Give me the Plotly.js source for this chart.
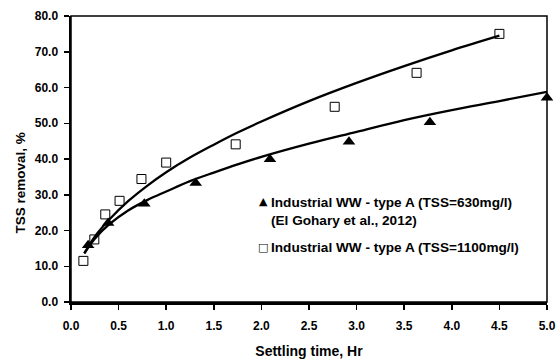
<!DOCTYPE html>
<html>
<head>
<meta charset="utf-8">
<script src="https://cdn.plot.ly/plotly-3.0.1.min.js"></script>
<style>html,body{margin:0;padding:0;background:#fff;}#chart{width:558px;height:359px;}</style>
</head>
<body>
<div id="chart"></div>
<script>
// Measured points: TSS = 630 mg/l (El Gohary et al., 2012)
const t630 = [0.18, 0.39, 0.77, 1.31, 2.09, 2.92, 3.77, 5.0];
const r630 = [15.9, 22.1, 27.5, 33.3, 39.9, 44.8, 50.3, 57.1];
// Measured points: TSS = 1100 mg/l
const t1100 = [0.13, 0.245, 0.36, 0.51, 0.74, 1.0, 1.73, 2.77, 3.63, 4.5];
const r1100 = [11.5, 17.5, 24.5, 28.3, 34.4, 39.0, 44.1, 54.6, 64.1, 75.0];
// Trend curves
const fitT630 = [0.14, 0.25, 0.4, 0.6, 0.8, 1.0, 1.25, 1.5, 1.75, 2.0, 2.5, 3.0, 3.5, 4.0, 4.5, 5.0];
const fitR630 = [13.6, 17.7, 21.7, 25.6, 28.5, 30.9, 33.8, 36.2, 38.5, 40.6, 44.3, 47.6, 50.9, 53.7, 56.2, 58.8];
const fitT1100 = [0.14, 0.25, 0.4, 0.6, 0.8, 1.0, 1.25, 1.5, 1.75, 2.0, 2.5, 3.0, 3.5, 4.0, 4.5];
const fitR1100 = [13.6, 18.3, 23.0, 28.2, 32.5, 36.3, 40.4, 44.0, 47.4, 50.5, 56.2, 61.3, 66.0, 70.4, 74.5];

const xTicks = [0, 0.5, 1, 1.5, 2, 2.5, 3, 3.5, 4, 4.5, 5];
const yTicks = [0, 10, 20, 30, 40, 50, 60, 70, 80];

const legend1a = "Industrial WW - type A (TSS=630mg/l)";
const legend1b = "(El Gohary et al., 2012)";
const legend2 = "Industrial WW - type A (TSS=1100mg/l)";
const xTitle = "Settling time, Hr";
const yTitle = "TSS removal, %";

const FONT = "Arial, 'Liberation Sans', sans-serif";

const traces = [
  {x: fitT1100, y: fitR1100, mode: 'lines', line: {color: '#000', width: 2.3, shape: 'spline'}, showlegend: false, hoverinfo: 'skip'},
  {x: fitT630, y: fitR630, mode: 'lines', line: {color: '#000', width: 2.3, shape: 'spline'}, showlegend: false, hoverinfo: 'skip'},
  {x: t630, y: r630, mode: 'markers', name: legend1a, cliponaxis: false,
   marker: {symbol: 'triangle-up', size: 11, color: '#000', line: {width: 0}}, showlegend: false},
  {x: t1100, y: r1100, mode: 'markers', name: legend2, cliponaxis: false,
   marker: {symbol: 'square-open', size: 9, color: '#000', line: {width: 1}}, showlegend: false}
];

const tickFont = {family: FONT, size: 12, color: '#000', weight: 'bold'};
const legFont = {family: FONT, size: 13.6, color: '#000', weight: 'bold'};

const layout = {
  width: 558, height: 359,
  margin: {l: 71, r: 11, t: 16, b: 57, pad: 0},
  paper_bgcolor: '#fff', plot_bgcolor: '#fff',
  showlegend: false,
  xaxis: {
    range: [0, 5], tickvals: xTicks, ticktext: xTicks.map(v => v.toFixed(1)),
    ticks: 'outside', ticklen: 5, tickwidth: 1.5, tickcolor: '#000',
    showline: true, linewidth: 2.5, linecolor: '#000', showgrid: false, zeroline: false,
    tickfont: tickFont, ticklabelstandoff: 6,
    title: {text: xTitle, font: {family: FONT, size: 14, color: '#000', weight: 'bold'}, standoff: 17}
  },
  yaxis: {
    range: [0, 80], tickvals: yTicks, ticktext: yTicks.map(v => v.toFixed(1)),
    ticks: 'outside', ticklen: 5, tickwidth: 1.5, tickcolor: '#000',
    showline: true, linewidth: 2.5, linecolor: '#000', showgrid: false, zeroline: false,
    tickfont: tickFont, ticklabelstandoff: 3
  },
  shapes: [
    {type: 'rect', xref: 'paper', yref: 'paper', x0: 0, x1: 1, y0: 0, y1: 1, line: {color: '#000', width: 1.5}, layer: 'above'}
  ],
  annotations: [
    {xref: 'paper', yref: 'paper', x: -0.1065, y: 0.415, text: yTitle, textangle: -90, showarrow: false,
     xanchor: 'center', yanchor: 'middle', font: {family: FONT, size: 13.5, color: '#000', weight: 'bold'}},
    {xref: 'paper', yref: 'paper', x: 0.4035, y: 0.352, text: '\u25B2', showarrow: false, xanchor: 'center', yanchor: 'middle',
     font: {family: 'DejaVu Sans', size: 11, color: '#000'}},
    {xref: 'paper', yref: 'paper', x: 0.4166, y: 0.349, text: legend1a, showarrow: false, xanchor: 'left', yanchor: 'middle', font: legFont},
    {xref: 'paper', yref: 'paper', x: 0.4166, y: 0.286, text: legend1b, showarrow: false, xanchor: 'left', yanchor: 'middle', font: legFont},
    {xref: 'paper', yref: 'paper', x: 0.4035, y: 0.1915, text: '\u25A1', showarrow: false, xanchor: 'center', yanchor: 'middle',
     font: {family: 'DejaVu Sans', size: 11, color: '#000'}},
    {xref: 'paper', yref: 'paper', x: 0.4166, y: 0.1915, text: legend2, showarrow: false, xanchor: 'left', yanchor: 'middle', font: legFont}
  ]
};

Plotly.newPlot('chart', traces, layout, {displayModeBar: false, staticPlot: true});
</script>
</body>
</html>
